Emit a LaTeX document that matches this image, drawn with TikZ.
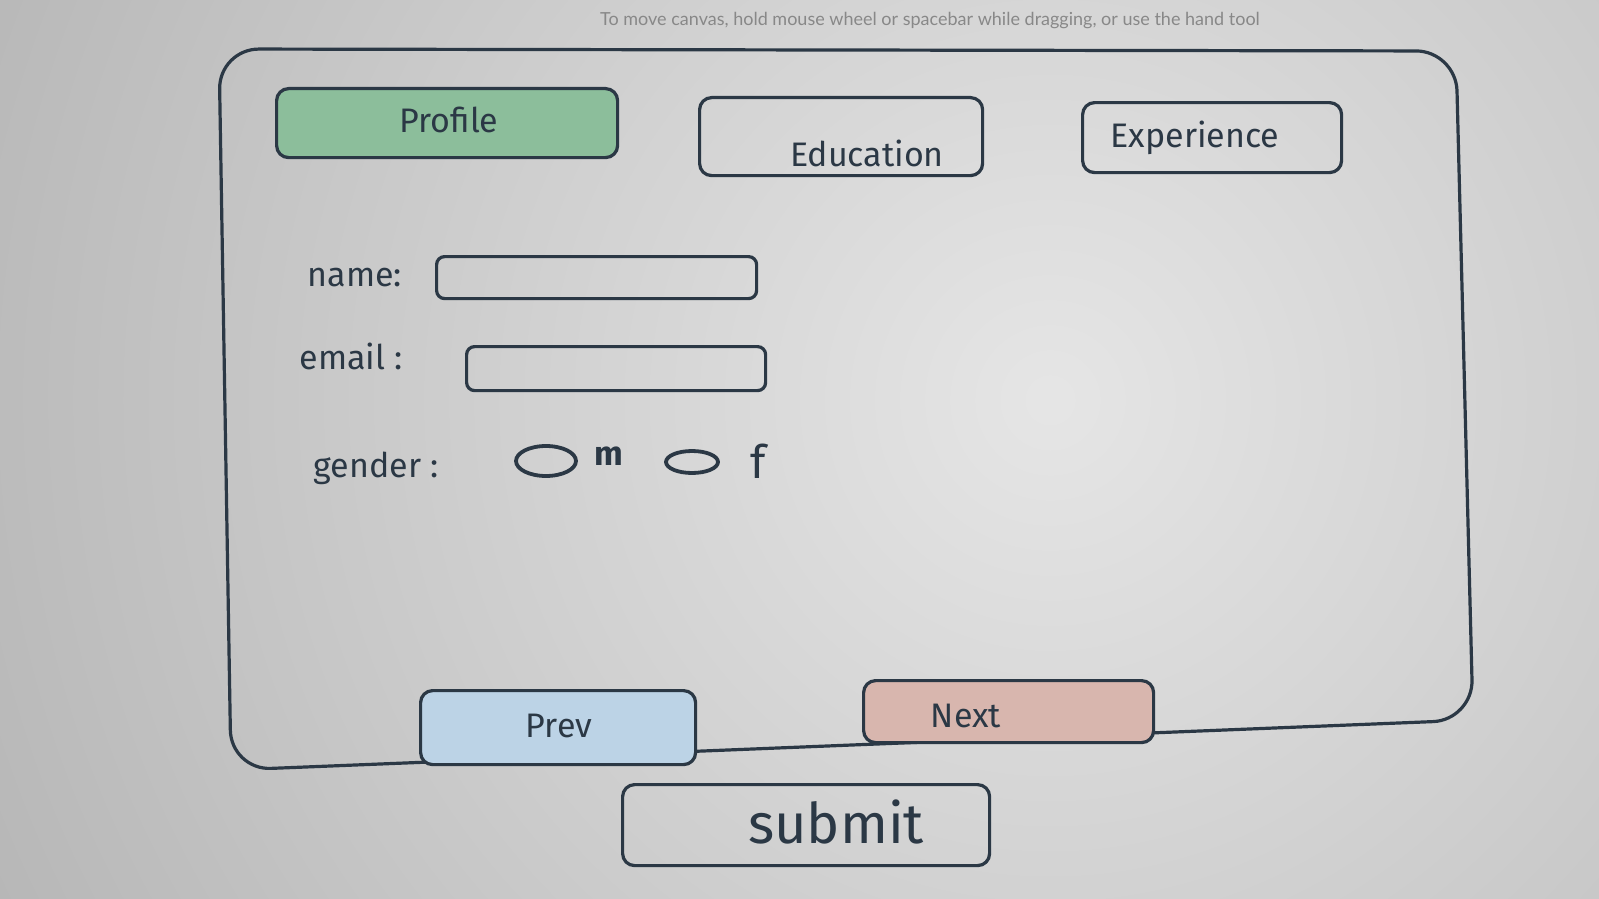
\documentclass[tikz,border=0pt]{standalone}
\usepackage{fontspec}
\setmainfont{Fira Sans}
\newfontfamily\hintfont{Lato}
\definecolor{ink}{HTML}{2B3845}
\definecolor{profgreen}{HTML}{8CBE9B}
\definecolor{prevblue}{HTML}{BCD3E6}
\definecolor{nextpink}{HTML}{D8B6AE}
\definecolor{hintgray}{HTML}{888888}
\tikzset{
  sketchbox/.style={draw=ink, line width=3.2pt, rounded corners=12pt, inner sep=0pt},
  lbl/.style={text=ink, inner sep=0pt, font=\fontsize{34}{36}\selectfont},
}
\begin{document}
\begin{tikzpicture}[x=1pt,y=-1pt]
\useasboundingbox (0,0) rectangle (1599,899);
\begin{scope}
\clip (0,0) rectangle (1599,899);
\shade[inner color=white!90!black, outer color=black!46] (1050,400) circle (2300);
\end{scope}
% hint
\node[text=hintgray, font=\hintfont\fontsize{18}{20}\selectfont, inner sep=0pt] (hint) at (930,21) {To move canvas, hold mouse wheel or spacebar while dragging, or use the hand tool};
% frame
\draw[ink, line width=3.2pt, rounded corners=40pt] (219,49) -- (1456,51) -- (1473,720) -- (231,770) -- cycle;
% tabs
\node[sketchbox, fill=profgreen, minimum width=341pt, minimum height=69pt, anchor=north west] (profile) at (275,87) {};
\node[lbl] (profiletxt) at (449,120) {Profile};
\node[sketchbox, minimum width=283pt, minimum height=78pt, anchor=north west] (education) at (698,96) {};
\node[lbl] (educationtxt) at (867,153) {Education};
\node[sketchbox, minimum width=259pt, minimum height=70pt, anchor=north west] (experience) at (1081,101) {};
\node[lbl] (experiencetxt) at (1195,138) {Experience};
% fields
\node[lbl] (namelbl) at (355,278) {name:};
\node[sketchbox, rounded corners=8pt, minimum width=320pt, minimum height=42pt, anchor=north west] (namebox) at (435,255) {};
\node[lbl] (emaillbl) at (351,356) {email :};
\node[sketchbox, rounded corners=8pt, minimum width=299pt, minimum height=44pt, anchor=north west] (emailbox) at (465,345) {};
\node[lbl] (genderlbl) at (376,468) {gender :};
\draw[ink, line width=3.8pt] (546,461) ellipse (30 and 15);
\node[lbl, font=\bfseries\fontsize{34}{36}\selectfont] (mtxt) at (609,456) {m};
\draw[ink, line width=3.8pt] (692,462) ellipse (26 and 11);
\node[lbl, font=\fontsize{46}{48}\selectfont] (ftxt) at (758,461) {f};
% nav buttons
\node[sketchbox, fill=prevblue, minimum width=275pt, minimum height=74pt, anchor=north west] (prev) at (419,689) {};
\node[lbl] (prevtxt) at (559,726) {Prev};
\node[sketchbox, fill=nextpink, minimum width=290pt, minimum height=62pt, anchor=north west] (next) at (862,679) {};
\node[lbl] (nexttxt) at (966,716) {Next};
% submit
\node[sketchbox, minimum width=367pt, minimum height=81pt, anchor=north west] (submit) at (621,783) {};
\node[lbl, font=\fontsize{56}{58}\selectfont] (submittxt) at (836,822) {submit};
\end{tikzpicture}
\end{document}
